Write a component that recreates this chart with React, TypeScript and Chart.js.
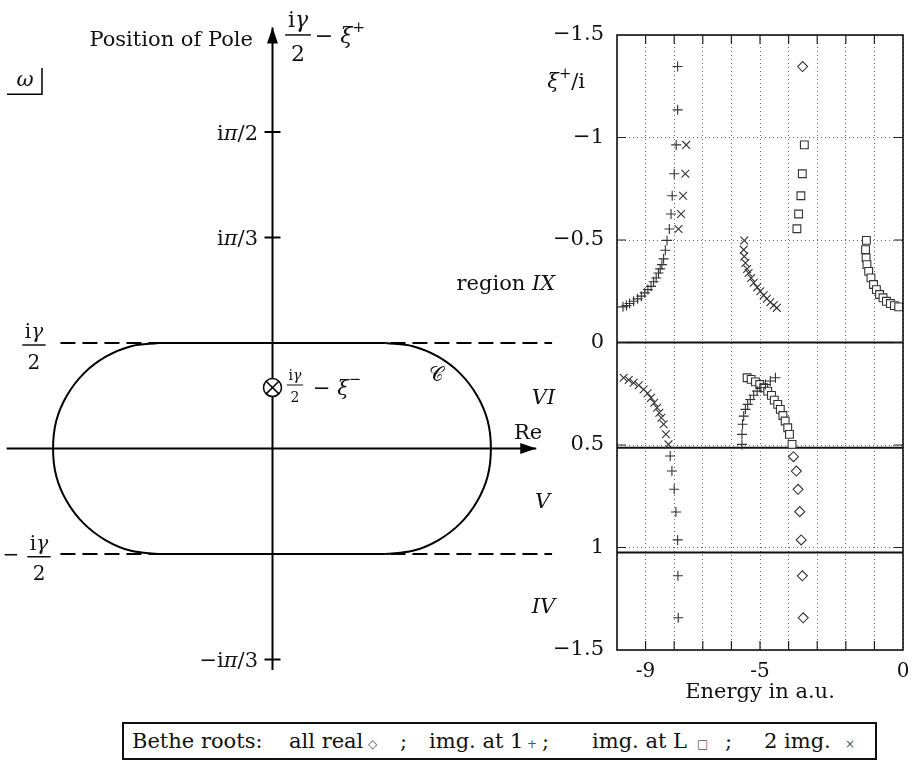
import { useEffect, useRef } from "react";
import { Chart, registerables } from "chart.js";

Chart.register(...registerables);

// ---------------- Right panel data: ξ+/i versus energy (a.u.) ----------------
const allRealRoots: [number, number][] = [
  [-3.51, -1.346],
  [-3.83, 0.557], [-3.73, 0.627], [-3.67, 0.716], [-3.61, 0.825], [-3.56, 0.963], [-3.52, 1.138], [-3.49, 1.343],
];

const imgAt1Roots: [number, number][] = [
  [-7.88, -1.346], [-7.88, -1.135], [-7.93, -0.964], [-8.0, -0.823], [-8.07, -0.716], [-8.11, -0.627], [-8.17, -0.554],
  [-8.25, -0.498], [-8.31, -0.45], [-8.37, -0.408], [-8.43, -0.38], [-8.49, -0.359], [-8.55, -0.339], [-8.63, -0.315],
  [-8.72, -0.296], [-8.81, -0.274], [-8.92, -0.258], [-9.03, -0.242], [-9.15, -0.226], [-9.28, -0.213], [-9.42, -0.201],
  [-9.56, -0.19], [-9.67, -0.18], [-9.79, -0.174],
  [-5.63, 0.497], [-5.63, 0.448], [-5.61, 0.399], [-5.57, 0.359], [-5.51, 0.326], [-5.43, 0.302], [-5.34, 0.278],
  [-5.22, 0.257], [-5.1, 0.237], [-4.97, 0.221], [-4.81, 0.205], [-4.64, 0.188], [-4.46, 0.172],
  [-8.14, 0.554], [-8.08, 0.627], [-8.0, 0.716], [-7.94, 0.827], [-7.88, 0.963], [-7.87, 1.138], [-7.86, 1.343],
];

const imgAtLRoots: [number, number][] = [
  [-3.45, -0.964], [-3.52, -0.823], [-3.57, -0.716], [-3.65, -0.627], [-3.71, -0.555],
  [-1.28, -0.498], [-1.31, -0.453], [-1.29, -0.413], [-1.26, -0.38], [-1.2, -0.347], [-1.12, -0.315], [-1.03, -0.283],
  [-0.93, -0.258], [-0.82, -0.234], [-0.7, -0.218], [-0.58, -0.201], [-0.44, -0.19], [-0.3, -0.18], [-0.15, -0.174],
  [-5.45, 0.172], [-5.31, 0.18], [-5.16, 0.192], [-5.01, 0.205], [-4.87, 0.221], [-4.73, 0.237], [-4.6, 0.258],
  [-4.5, 0.281], [-4.38, 0.302], [-4.29, 0.326], [-4.2, 0.356], [-4.12, 0.383], [-4.03, 0.416], [-3.97, 0.448], [-3.88, 0.497],
];

const twoImgRoots: [number, number][] = [
  [-7.58, -0.964], [-7.61, -0.823], [-7.69, -0.716], [-7.76, -0.627], [-7.85, -0.554],
  [-5.55, -0.498], [-5.57, -0.453], [-5.55, -0.42], [-5.51, -0.388], [-5.45, -0.359], [-5.4, -0.339], [-5.31, -0.315],
  [-5.22, -0.291], [-5.1, -0.269], [-4.99, -0.25], [-4.87, -0.23], [-4.76, -0.213], [-4.64, -0.196], [-4.52, -0.182], [-4.41, -0.169],
  [-9.77, 0.172], [-9.59, 0.183], [-9.42, 0.196], [-9.24, 0.209], [-9.07, 0.229], [-8.93, 0.248], [-8.81, 0.27],
  [-8.7, 0.294], [-8.6, 0.318], [-8.52, 0.343], [-8.45, 0.367], [-8.37, 0.399], [-8.29, 0.448], [-8.2, 0.497],
];

const regionBoundaries = [0, 0.513, 1.024];
const energyRange = [-10, 0];
const energyTickValues = [-9, -5, 0];
const energyTickLabels = ["-9", "-5", "0"];
const xiTickValues = [-1.5, -1, -0.5, 0, 0.5, 1, 1.5];
const xiTickLabels = ["−1.5", "−1", "−0.5", "0", "0.5", "1", "−1.5"];
const seriesNames = ["all real", "img. at 1", "img. at L", "2 img."];
const seriesSymbols = ["◇", "+", "□", "×"];

// ---------------- Left panel: schematic in units of γ/2 ----------------
const reAxis: [number, number][] = [[-2.52, 0], [2.5, 0]];
const imAxis: [number, number][] = [[0, -2.1], [0, 3.99]];
const imTickValues = [3, 2, -2];
const imTickLabels = ["iπ/2", "iπ/3", "−iπ/3"];
const dashedLevels = [1, -1];
const dashedSpan = [-2.01, 2.65];
const contourTop: [number, number][] = [[-1.08, 1], [1.07, 1]];
const contourBottom: [number, number][] = [[-1.08, -1], [1.07, -1]];
const contourRight: [number, number][] = [
  [1.07, 1], [1.33, 0.97], [1.57, 0.87], [1.78, 0.71], [1.94, 0.5], [2.04, 0.26], [2.07, 0],
  [2.04, -0.26], [1.94, -0.5], [1.78, -0.71], [1.57, -0.87], [1.33, -0.97], [1.07, -1],
];
const contourLeft: [number, number][] = [
  [-1.08, 1], [-1.34, 0.97], [-1.58, 0.87], [-1.79, 0.71], [-1.95, 0.5], [-2.05, 0.26], [-2.08, 0],
  [-2.05, -0.26], [-1.95, -0.5], [-1.79, -0.71], [-1.58, -0.87], [-1.34, -0.97], [-1.08, -1],
];
const poleMinus: [number, number] = [0, 0.578];
const omegaBox: [number, number][] = [[-2.517, 3.357], [-2.185, 3.357], [-2.185, 3.607]];

// ---------------- layout constants ----------------
const FONT = '"DejaVu Serif", "DejaVu Sans", serif';
const UNIT = 105.5;
const ORIGIN_X = 272.5;
const ORIGIN_Y = 448.5;
const LEFT_W = 600;
const CANVAS_H = 722;
const RIGHT_LEFT = 530;
const RIGHT_W = 382;

type Run = { t: string; it?: boolean; sup?: boolean };
type Label =
  | { kind: "text"; runs: Run[]; x: number; y: number; size: number; align: "left" | "right" | "center" }
  | { kind: "frac"; num: Run[]; den: Run[]; x: number; y: number; size: number };

const iGamma: Run[] = [{ t: "i" }, { t: "γ", it: true }];
const two: Run[] = [{ t: "2" }];

const piRuns = (s: string): Run[] => {
  const [pre, post] = s.split("π");
  return [{ t: pre }, { t: "π", it: true }, { t: post }];
};

const diagramLabels: Label[] = [
  { kind: "text", runs: [{ t: "Position of Pole" }], x: -0.185, y: 3.87, size: 21, align: "right" },
  { kind: "frac", num: iGamma, den: two, x: 0.242, y: 3.92, size: 22 },
  { kind: "text", runs: [{ t: "− " }, { t: "ξ", it: true }, { t: "+", sup: true }], x: 0.4, y: 3.9, size: 22, align: "left" },
  { kind: "text", runs: piRuns(imTickLabels[0]), x: -0.137, y: imTickValues[0] - 0.02, size: 21, align: "right" },
  { kind: "text", runs: piRuns(imTickLabels[1]), x: -0.137, y: imTickValues[1] - 0.02, size: 21, align: "right" },
  { kind: "text", runs: piRuns(imTickLabels[2]), x: -0.137, y: imTickValues[2] - 0.02, size: 21, align: "right" },
  { kind: "frac", num: iGamma, den: two, x: -2.261, y: 0.981, size: 20 },
  { kind: "text", runs: [{ t: "−" }], x: -2.479, y: -1.02, size: 20, align: "center" },
  { kind: "frac", num: iGamma, den: two, x: -2.213, y: -1.026, size: 20 },
  { kind: "frac", num: iGamma, den: two, x: 0.213, y: 0.602, size: 14 },
  { kind: "text", runs: [{ t: "− " }, { t: "ξ", it: true }, { t: "−", sup: true }], x: 0.384, y: 0.56, size: 21, align: "left" },
  { kind: "text", runs: [{ t: "𝒞" }], x: 1.559, y: 0.687, size: 20, align: "center" },
  { kind: "text", runs: [{ t: "Re" }], x: 2.422, y: 0.14, size: 21, align: "center" },
  { kind: "text", runs: [{ t: "ω", it: true }], x: -2.346, y: 3.483, size: 21, align: "center" },
  { kind: "text", runs: [{ t: "region " }, { t: "IX", it: true }], x: 2.68, y: 1.55, size: 21, align: "right" },
  { kind: "text", runs: [{ t: "VI", it: true }], x: 2.68, y: 0.47, size: 21, align: "right" },
  { kind: "text", runs: [{ t: "V", it: true }], x: 2.633, y: -0.515, size: 21, align: "right" },
  { kind: "text", runs: [{ t: "IV", it: true }], x: 2.68, y: -1.51, size: 21, align: "right" },
];

const fontOf = (size: number, it?: boolean) => `${it ? "italic " : ""}${size}px ${FONT}`;

function runsWidth(ctx: CanvasRenderingContext2D, runs: Run[], size: number) {
  let w = 0;
  for (const r of runs) {
    ctx.font = fontOf(r.sup ? size * 0.7 : size, r.it);
    w += ctx.measureText(r.t).width;
  }
  return w;
}

function drawRuns(ctx: CanvasRenderingContext2D, runs: Run[], x: number, y: number, size: number, align: string) {
  const w = runsWidth(ctx, runs, size);
  let cx = align === "left" ? x : align === "right" ? x - w : x - w / 2;
  ctx.textAlign = "left";
  ctx.textBaseline = "middle";
  for (const r of runs) {
    const s = r.sup ? size * 0.7 : size;
    ctx.font = fontOf(s, r.it);
    ctx.fillText(r.t, cx, r.sup ? y - size * 0.42 : y);
    cx += ctx.measureText(r.t).width;
  }
}

function drawFrac(ctx: CanvasRenderingContext2D, num: Run[], den: Run[], cx: number, barY: number, size: number) {
  const bw = Math.max(runsWidth(ctx, num, size), runsWidth(ctx, den, size)) + size * 0.25;
  const lw = size > 16 ? 1.5 : 1;
  ctx.fillRect(cx - bw / 2, barY - lw / 2, bw, lw);
  drawRuns(ctx, num, cx, barY - size * 0.62, size, "center");
  drawRuns(ctx, den, cx, barY + size * 0.92, size, "center");
}

const diagramPlugin = {
  id: "diagramDecor",
  afterDatasetsDraw(chart: any) {
    const ctx: CanvasRenderingContext2D = chart.ctx;
    const xs = chart.scales.x;
    const ys = chart.scales.y;
    ctx.save();
    ctx.fillStyle = "#000";
    chart.data.datasets.forEach((ds: any, i: number) => {
      if (!ds.arrowHead) return;
      const pts = chart.getDatasetMeta(i).data;
      const a = pts[pts.length - 2];
      const b = pts[pts.length - 1];
      const ang = Math.atan2(b.y - a.y, b.x - a.x);
      const L = 16;
      const H = 5.5;
      const c = Math.cos(ang);
      const s = Math.sin(ang);
      ctx.beginPath();
      ctx.moveTo(b.x, b.y);
      ctx.lineTo(b.x - L * c + H * s, b.y - L * s - H * c);
      ctx.lineTo(b.x - L * c - H * s, b.y - L * s + H * c);
      ctx.closePath();
      ctx.fill();
    });
    ctx.fillStyle = "#111";
    for (const lb of diagramLabels) {
      const px = xs.getPixelForValue(lb.x);
      const py = ys.getPixelForValue(lb.y);
      if (lb.kind === "text") drawRuns(ctx, lb.runs, px, py, lb.size, lb.align);
      else drawFrac(ctx, lb.num, lb.den, px, py, lb.size);
    }
    ctx.restore();
  },
};

const panelPlugin = {
  id: "panelDecor",
  afterDatasetsDraw(chart: any) {
    const ctx: CanvasRenderingContext2D = chart.ctx;
    const { left, right, top, bottom } = chart.chartArea;
    const xs = chart.scales.x;
    const ys = chart.scales.y;
    ctx.save();
    ctx.strokeStyle = "#222";
    ctx.lineWidth = 1.2;
    const T = 9;
    ctx.beginPath();
    for (const t of xs.ticks) {
      if (t.value <= energyRange[0] || t.value >= energyRange[1]) continue;
      const x = xs.getPixelForValue(t.value);
      ctx.moveTo(x, bottom);
      ctx.lineTo(x, bottom - T);
      ctx.moveTo(x, top);
      ctx.lineTo(x, top + T);
    }
    for (const t of ys.ticks) {
      if (t.value <= xiTickValues[0] || t.value >= xiTickValues[xiTickValues.length - 1]) continue;
      const y = ys.getPixelForValue(t.value);
      ctx.moveTo(left, y);
      ctx.lineTo(left + T, y);
      ctx.moveTo(right, y);
      ctx.lineTo(right - T, y);
    }
    ctx.stroke();
    ctx.lineWidth = 1.6;
    ctx.strokeStyle = "#111";
    ctx.strokeRect(left, top, right - left, bottom - top);
    ctx.fillStyle = "#111";
    drawRuns(ctx, [{ t: "ξ", it: true }, { t: "+", sup: true }, { t: "/i" }], left - 32, ys.getPixelForValue(-1.266), 21, "right");
    ctx.restore();
  },
};

const pts = (arr: [number, number][]) => arr.map(([x, y]) => ({ x, y }));

export default function App() {
  const leftRef = useRef<HTMLCanvasElement>(null);
  const rightRef = useRef<HTMLCanvasElement>(null);

  useEffect(() => {
    const lineDs = (data: [number, number][], extra: any = {}) => ({
      data: pts(data),
      showLine: true,
      borderColor: "#000",
      backgroundColor: "#000",
      borderWidth: 2,
      pointRadius: 0,
      tension: 0,
      ...extra,
    });

    const leftDatasets: any[] = [
      ...dashedLevels.map((lv) =>
        lineDs([[dashedSpan[0], lv], [dashedSpan[1], lv]], { borderDash: [15, 7], borderWidth: 1.8, order: 5 })
      ),
      lineDs(contourTop),
      lineDs(contourBottom),
      lineDs(contourRight, { tension: 0.35 }),
      lineDs(contourLeft, { tension: 0.35 }),
      lineDs(reAxis, { arrowHead: true }),
      lineDs(imAxis, { arrowHead: true }),
      lineDs(omegaBox, { borderWidth: 1.5 }),
      {
        data: imTickValues.map((v) => ({ x: 0, y: v })),
        showLine: false,
        pointStyle: "line",
        pointRadius: 8,
        borderColor: "#000",
        borderWidth: 2,
      },
      {
        data: [{ x: poleMinus[0], y: poleMinus[1] }],
        pointStyle: "circle",
        pointRadius: 9,
        backgroundColor: "#fff",
        borderColor: "#000",
        borderWidth: 1.5,
        order: -1,
      },
      {
        data: [{ x: poleMinus[0], y: poleMinus[1] }],
        pointStyle: "crossRot",
        pointRadius: 9,
        borderColor: "#000",
        borderWidth: 1.5,
        order: -2,
      },
    ];

    const left = new Chart(leftRef.current as HTMLCanvasElement, {
      type: "scatter",
      data: { datasets: leftDatasets },
      options: {
        animation: false,
        responsive: false,
        events: [],
        layout: { padding: 0, autoPadding: false },
        plugins: { legend: { display: false }, tooltip: { enabled: false } },
        scales: {
          x: { type: "linear", display: false, min: -ORIGIN_X / UNIT, max: (LEFT_W - ORIGIN_X) / UNIT },
          y: { type: "linear", display: false, min: -(CANVAS_H - ORIGIN_Y) / UNIT, max: ORIGIN_Y / UNIT },
        },
      } as any,
      plugins: [diagramPlugin],
    });

    const markerDs = (data: [number, number][], style: string, radius: number, extra: any = {}) => ({
      data: pts(data),
      showLine: false,
      pointStyle: style,
      pointRadius: radius,
      borderColor: "#333",
      backgroundColor: "rgba(0,0,0,0)",
      borderWidth: 1.1,
      ...extra,
    });

    const rightDatasets: any[] = [
      ...regionBoundaries.map((lv) => ({
        data: [{ x: energyRange[0], y: lv }, { x: energyRange[1], y: lv }],
        showLine: true,
        pointRadius: 0,
        borderColor: "#111",
        borderWidth: 2,
        order: 10,
      })),
      markerDs(allRealRoots, "rectRot", 5),
      markerDs(imgAt1Roots, "cross", 5),
      markerDs(imgAtLRoots, "rect", 5.5, { backgroundColor: "#fff" }),
      markerDs(twoImgRoots, "crossRot", 5.5),
    ];

    const tickFont = { family: FONT, size: 20 };
    const right = new Chart(rightRef.current as HTMLCanvasElement, {
      type: "scatter",
      data: { datasets: rightDatasets },
      options: {
        animation: false,
        responsive: false,
        events: [],
        layout: { padding: { top: 35, right: 9, bottom: 0, left: 0 }, autoPadding: false },
        plugins: { legend: { display: false }, tooltip: { enabled: false } },
        scales: {
          x: {
            type: "linear",
            min: energyRange[0],
            max: energyRange[1],
            afterFit: (s: any) => {
              s.height = 72;
              s.paddingRight = 0;
              s.paddingLeft = 0;
            },
            grid: { color: "#666", lineWidth: 1, drawTicks: false },
            border: { display: false, dash: [1, 3] },
            ticks: {
              stepSize: 1,
              autoSkip: false,
              maxRotation: 0,
              padding: 10,
              color: "#111",
              font: tickFont,
              callback: (v: any) => {
                const i = energyTickValues.findIndex((t) => Math.abs(t - Number(v)) < 1e-6);
                return i >= 0 ? energyTickLabels[i] : "";
              },
            },
            title: {
              display: true,
              text: "Energy in a.u.",
              color: "#111",
              font: { family: FONT, size: 21 },
              padding: { top: 0, bottom: 17 },
            },
          },
          y: {
            type: "linear",
            min: xiTickValues[0],
            max: xiTickValues[xiTickValues.length - 1],
            reverse: true,
            afterFit: (s: any) => {
              s.width = 87;
              s.paddingTop = 0;
              s.paddingBottom = 0;
            },
            grid: { color: "#666", lineWidth: 1, drawTicks: false },
            border: { display: false, dash: [1, 3] },
            ticks: {
              stepSize: 0.5,
              autoSkip: false,
              padding: 13,
              color: "#111",
              font: { family: FONT, size: 21 },
              callback: (v: any) => {
                const i = xiTickValues.findIndex((t) => Math.abs(t - Number(v)) < 1e-6);
                return i >= 0 ? xiTickLabels[i] : "";
              },
            },
          },
        },
      } as any,
      plugins: [panelPlugin],
    });

    return () => {
      left.destroy();
      right.destroy();
    };
  }, []);

  const legendText = (t: string, x: number, small = false) => (
    <span
      key={t + x}
      style={{
        position: "absolute",
        left: x,
        top: small ? 3 : 0,
        lineHeight: "34px",
        fontSize: small ? 12 : 21,
        color: small ? "#555" : "#111",
        fontFamily: small ? '"DejaVu Sans", sans-serif' : FONT,
        whiteSpace: "pre",
      }}
    >
      {t}
    </span>
  );

  return (
    <div style={{ position: "absolute", left: 0, top: 0, width: 912, height: 763, background: "#fff" }}>
      <canvas
        ref={leftRef}
        width={LEFT_W}
        height={CANVAS_H}
        style={{ position: "absolute", left: 0, top: 0, width: LEFT_W, height: CANVAS_H }}
      />
      <canvas
        ref={rightRef}
        width={RIGHT_W}
        height={CANVAS_H}
        style={{ position: "absolute", left: RIGHT_LEFT, top: 0, width: RIGHT_W, height: CANVAS_H }}
      />
      <div
        style={{
          position: "absolute",
          left: 122,
          top: 722,
          width: 755,
          height: 38,
          boxSizing: "border-box",
          border: "2px solid #111",
          background: "#fff",
        }}
      >
        {legendText("Bethe roots:", 8)}
        {legendText(seriesNames[0], 165)}
        {legendText(seriesSymbols[0], 244, true)}
        {legendText(";", 276)}
        {legendText(seriesNames[1], 305)}
        {legendText(seriesSymbols[1], 403, true)}
        {legendText(";", 418)}
        {legendText(seriesNames[2], 468)}
        {legendText(seriesSymbols[2], 573, true)}
        {legendText(";", 601)}
        {legendText(seriesNames[3], 640)}
        {legendText(seriesSymbols[3], 721, true)}
      </div>
    </div>
  );
}
